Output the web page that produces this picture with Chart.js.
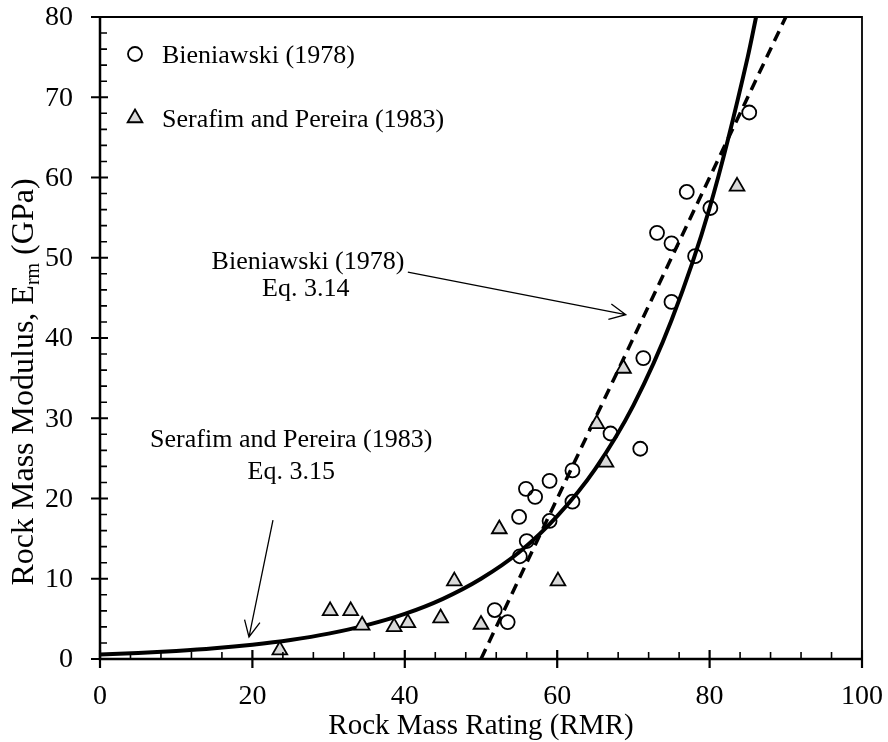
<!DOCTYPE html>
<html>
<head>
<meta charset="utf-8">
<script src="https://cdn.jsdelivr.net/npm/chart.js@4.4.1/dist/chart.umd.min.js"></script>
<style>
  html, body { margin: 0; padding: 0; background: #ffffff; }
  #wrap { width: 888px; height: 742px; position: relative; }
</style>
</head>
<body>
<div id="wrap"><canvas id="c" width="888" height="742"></canvas></div>
<script>
// Field data: rock mass rating vs. measured in-situ deformation modulus
const bieniawskiRMR = [51.8, 53.5, 55.1, 56.0, 55.0, 55.9, 57.1, 59.0, 59.0, 62.0, 62.0, 67.0, 70.9, 71.3, 75.0, 78.1, 75.0, 73.1, 80.1, 77.0, 85.2];
const bieniawskiE   = [6.1,  4.6,  12.8, 14.7, 17.7, 21.2, 20.2, 22.2, 17.2, 23.5, 19.6, 28.1, 26.2, 37.5, 44.5, 50.2, 51.8, 53.1, 56.2, 58.2, 68.1];

const serafimRMR = [23.6, 30.2, 32.9, 34.4, 38.6, 40.4, 44.7, 46.5, 50.0, 52.4, 60.1, 65.2, 66.4, 68.7, 83.6];
const serafimE   = [1.1,  6.0,  6.0,  4.2,  4.0,  4.5,  5.1,  9.7,  4.3,  16.2, 9.7,  29.3, 24.5, 36.2, 58.9];

// Eq. 3.14 (straight line)
const eq314RMR = [50, 90];
const eq314E   = [0, 80];

// Eq. 3.15 (exponential curve)
const eq315RMR = [0, 5, 10, 15, 20, 25, 30, 35, 40, 45, 50, 55, 60, 65, 70, 75, 80, 85, 86.1];
const eq315E   = [0.56, 0.75, 1.00, 1.33, 1.78, 2.37, 3.16, 4.22, 5.62, 7.50, 10.0, 13.3, 17.8, 23.7, 31.6, 42.2, 56.2, 75.0, 80.0];

// Axis ticks
const xTickValues = [0, 20, 40, 60, 80, 100];
const yTickValues = [0, 10, 20, 30, 40, 50, 60, 70, 80];
const xMinorStep = 4;
const yMinorStep = 2;

const xTitle = 'Rock Mass Rating (RMR)';
const yTitleMain = 'Rock Mass Modulus, E';
const yTitleSub = 'rm';
const yTitleEnd = ' (GPa)';

const legendLabels = ['Bieniawski (1978)', 'Serafim and Pereira (1983)'];

const SERIF = '"Liberation Serif", "Times New Roman", "DejaVu Serif", serif';

function pts(xs, ys) { return xs.map((x, i) => ({ x: x, y: ys[i] })); }

// Axes, frame, ticks, titles, legend and the equation call-outs
const decorations = {
  id: 'decorations',
  afterDraw(chart) {
    const ctx = chart.ctx;
    const xs = chart.scales.x, ys = chart.scales.y;
    const a = chart.chartArea;
    const X = v => xs.getPixelForValue(v);
    const Y = v => ys.getPixelForValue(v);
    ctx.save();
    ctx.strokeStyle = '#000';
    ctx.fillStyle = '#000';
    ctx.lineCap = 'butt';

    // frame
    ctx.lineWidth = 1.8;
    ctx.beginPath();
    ctx.moveTo(a.left, a.top); ctx.lineTo(a.right, a.top); ctx.lineTo(a.right, a.bottom);
    ctx.stroke();
    ctx.lineWidth = 2.5;
    ctx.beginPath();
    ctx.moveTo(a.left, a.top - 1); ctx.lineTo(a.left, a.bottom); ctx.lineTo(a.right + 1, a.bottom);
    ctx.stroke();

    // minor ticks (inside)
    ctx.lineWidth = 1.6;
    ctx.beginPath();
    for (let v = 0; v <= 100; v += xMinorStep) {
      if (v % 20 === 0) continue;
      ctx.moveTo(X(v), a.bottom); ctx.lineTo(X(v), a.bottom - 7);
    }
    for (let v = 0; v <= 80; v += yMinorStep) {
      if (v % 10 === 0) continue;
      ctx.moveTo(a.left, Y(v)); ctx.lineTo(a.left + 7, Y(v));
    }
    ctx.stroke();

    // major ticks (crossing)
    ctx.lineWidth = 2.2;
    ctx.beginPath();
    xTickValues.forEach(v => { ctx.moveTo(X(v), a.bottom - 9); ctx.lineTo(X(v), a.bottom + 9); });
    yTickValues.forEach(v => { ctx.moveTo(a.left - 9, Y(v)); ctx.lineTo(a.left + 8, Y(v)); });
    ctx.stroke();

    // tick labels
    ctx.font = '28px ' + SERIF;
    ctx.textAlign = 'center';
    ctx.textBaseline = 'alphabetic';
    xTickValues.forEach(v => ctx.fillText(String(v), X(v), a.bottom + 45));
    ctx.textAlign = 'right';
    ctx.textBaseline = 'middle';
    yTickValues.forEach(v => ctx.fillText(String(v), a.left - 27, Y(v) + 1));

    // x title
    ctx.font = '29px ' + SERIF;
    ctx.textAlign = 'center';
    ctx.textBaseline = 'alphabetic';
    ctx.fillText(xTitle, (a.left + a.right) / 2, 734);

    // y title with subscript
    ctx.save();
    ctx.translate(33, 382);
    ctx.rotate(-Math.PI / 2);
    const bigFont = '32px ' + SERIF, subFont = '20px ' + SERIF;
    ctx.font = bigFont;
    const w1 = ctx.measureText(yTitleMain).width;
    const w3 = ctx.measureText(yTitleEnd).width;
    ctx.font = subFont;
    const w2 = ctx.measureText(yTitleSub).width;
    let sx = -(w1 + w2 + w3) / 2;
    ctx.textAlign = 'left';
    ctx.textBaseline = 'alphabetic';
    ctx.font = bigFont; ctx.fillText(yTitleMain, sx, 0); sx += w1;
    ctx.font = subFont; ctx.fillText(yTitleSub, sx, 6); sx += w2;
    ctx.font = bigFont; ctx.fillText(yTitleEnd, sx, 0);
    ctx.restore();

    // legend
    ctx.lineWidth = 1.8;
    ctx.beginPath();
    ctx.arc(135, 54, 7, 0, Math.PI * 2);
    ctx.stroke();
    const tr = 8.5;
    ctx.beginPath();
    ctx.moveTo(135, 118 - tr);
    ctx.lineTo(135 + tr * Math.sin(Math.PI * 2 / 3), 118 - tr * Math.cos(Math.PI * 2 / 3));
    ctx.lineTo(135 + tr * Math.sin(Math.PI * 4 / 3), 118 - tr * Math.cos(Math.PI * 4 / 3));
    ctx.closePath();
    ctx.fillStyle = '#d9d9d9';
    ctx.fill();
    ctx.stroke();
    ctx.fillStyle = '#000';
    ctx.font = '26px ' + SERIF;
    ctx.textAlign = 'left';
    ctx.textBaseline = 'alphabetic';
    ctx.fillText(legendLabels[0], 162, 63);
    ctx.fillText(legendLabels[1], 162, 127);

    // call-outs
    ctx.textAlign = 'center';
    ctx.fillText('Bieniawski (1978)', X(27.3), Y(48.6));
    ctx.fillText('Eq. 3.14', X(27.0), Y(45.2));
    ctx.fillText('Serafim and Pereira (1983)', X(25.1), Y(26.4));
    ctx.fillText('Eq. 3.15', X(25.1), Y(22.4));

    function arrow(x0, y0, x1, y1) {
      const px0 = X(x0), py0 = Y(y0), px1 = X(x1), py1 = Y(y1);
      const ang = Math.atan2(py1 - py0, px1 - px0);
      const L = 18, spread = 0.45;
      ctx.lineWidth = 1.3;
      ctx.beginPath();
      ctx.moveTo(px0, py0); ctx.lineTo(px1, py1);
      ctx.moveTo(px1 - L * Math.cos(ang - spread), py1 - L * Math.sin(ang - spread));
      ctx.lineTo(px1, py1);
      ctx.lineTo(px1 - L * Math.cos(ang + spread), py1 - L * Math.sin(ang + spread));
      ctx.stroke();
    }
    arrow(40.4, 48.2, 69.0, 42.9);
    arrow(22.7, 17.3, 19.55, 2.74);

    ctx.restore();
  }
};

new Chart(document.getElementById('c'), {
  type: 'scatter',
  data: {
    datasets: [
      {
        label: legendLabels[0],
        data: pts(bieniawskiRMR, bieniawskiE),
        pointStyle: 'circle',
        pointRadius: 7,
        pointBorderWidth: 1.8,
        pointBorderColor: '#000',
        pointBackgroundColor: 'rgba(0,0,0,0)',
        order: 0
      },
      {
        label: legendLabels[1],
        data: pts(serafimRMR, serafimE),
        pointStyle: 'triangle',
        pointRadius: 8.5,
        pointBorderWidth: 1.8,
        pointBorderColor: '#000',
        pointBackgroundColor: '#d9d9d9',
        order: 0
      },
      {
        label: 'Eq. 3.14',
        data: pts(eq314RMR, eq314E),
        showLine: true,
        borderColor: '#000',
        borderWidth: 3.5,
        borderDash: [11, 7],
        pointRadius: 0,
        fill: false,
        order: 2
      },
      {
        label: 'Eq. 3.15',
        data: pts(eq315RMR, eq315E),
        showLine: true,
        borderColor: '#000',
        borderWidth: 4,
        cubicInterpolationMode: 'monotone',
        pointRadius: 0,
        fill: false,
        order: 2
      }
    ]
  },
  options: {
    responsive: false,
    animation: false,
    devicePixelRatio: 1,
    layout: { padding: { left: 100, right: 26, top: 17, bottom: 83 } },
    scales: {
      x: { type: 'linear', min: 0, max: 100, display: false },
      y: { type: 'linear', min: 0, max: 80, display: false }
    },
    plugins: { legend: { display: false }, tooltip: { enabled: false } }
  },
  plugins: [decorations]
});
</script>
</body>
</html>
